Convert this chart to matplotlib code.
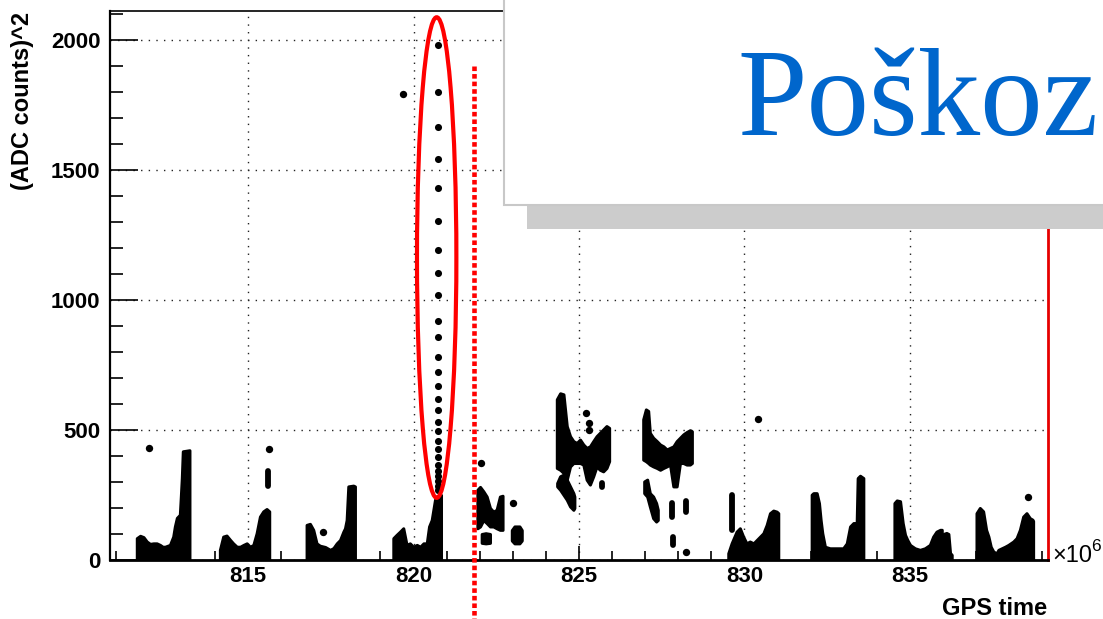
import matplotlib
matplotlib.use('Agg')
import matplotlib.pyplot as plt
from matplotlib.patches import Rectangle, Ellipse
from matplotlib.ticker import MultipleLocator

# ---------------- data (x in 10^6 s GPS time, y in (ADC counts)^2) ----------------
# dense clusters drawn as filled envelopes: x, upper edge (lower edge ~0)
A_x = [811.64, 811.74, 811.84, 811.94, 812.04, 812.14, 812.24, 812.34, 812.42, 812.49,
       812.64, 812.74, 812.79, 812.85, 812.94, 812.97, 813.00, 813.03, 813.23]
A_hi = [84, 93, 88, 71, 62, 64, 64, 58, 51, 51, 58, 90, 129, 162, 174, 243, 315, 418, 422]

B_x = [814.15, 814.25, 814.35, 814.46, 814.55, 814.66, 814.76, 814.86, 814.96, 815.06,
       815.16, 815.26, 815.36, 815.46, 815.56, 815.64]
B_hi = [39, 90, 94, 77, 64, 51, 51, 58, 64, 51, 58, 103, 167, 187, 196, 187]

C_x = [816.77, 816.87, 816.97, 817.07, 817.17, 817.33, 817.48, 817.58, 817.68, 817.78,
       817.88, 817.93, 817.98, 818.03, 818.18, 818.23]
C_hi = [135, 139, 116, 64, 55, 50, 39, 46, 64, 77, 109, 122, 154, 283, 286, 283]

D_x = [819.39, 819.49, 819.59, 819.69, 819.79, 819.89, 819.99, 820.10, 820.20, 820.30,
       820.40, 820.47, 820.55, 820.60, 820.65, 820.70, 820.80, 820.83]
D_hi = [84, 97, 109, 122, 58, 64, 51, 58, 51, 64, 64, 129, 154, 193, 232, 244, 250, 250]

H_x = [829.51, 829.61, 829.76, 829.86, 829.96, 830.06, 830.16, 830.27, 830.37, 830.47,
       830.57, 830.67, 830.77, 830.87, 830.97, 831.02]
H_hi = [26, 64, 109, 122, 90, 64, 71, 64, 77, 90, 103, 135, 180, 190, 186, 180]

I_x = [832.03, 832.08, 832.18, 832.25, 832.30, 832.35, 832.43, 832.58, 832.78, 832.98,
       833.09, 833.19, 833.29, 833.39, 833.42, 833.49, 833.59]
I_hi = [251, 257, 257, 219, 154, 103, 51, 45, 45, 45, 64, 129, 142, 142, 315, 324, 315]

J_x = [834.53, 834.60, 834.70, 834.78, 834.85, 834.92, 835.00, 835.15, 835.30, 835.45,
       835.60, 835.70, 835.80, 835.91, 835.96]
J_hi = [219, 229, 226, 142, 97, 77, 58, 45, 39, 45, 58, 90, 109, 116, 116]

J2_x = [836.01, 836.10, 836.16, 836.21, 836.26]
J2_hi = [100, 104, 100, 27, 20]

K_x = [837.01, 837.11, 837.21, 837.30, 837.37, 837.44, 837.52, 837.62, 837.67, 837.77,
       837.87, 837.97, 838.12, 838.22, 838.32, 838.42, 838.52, 838.62, 838.70, 838.72]
K_hi = [180, 200, 187, 116, 90, 51, 32, 26, 39, 45, 51, 58, 71, 84, 116, 167, 180, 161, 155, 150]

# floating clusters: x, lower edge, upper edge
E_x = [821.93, 822.01, 822.11, 822.21, 822.31, 822.41, 822.51, 822.61, 822.69]
E_lo = [122, 129, 154, 142, 129, 129, 122, 116, 116]
E_hi = [270, 281, 264, 244, 200, 186, 193, 244, 247]

E2_x = [822.06, 822.18, 822.31]
E2_lo = [66, 64, 66]
E2_hi = [100, 103, 100]

E3_x = [822.97, 823.05, 823.12, 823.20, 823.27]
E3_lo = [75, 64, 64, 64, 75]
E3_hi = [115, 129, 129, 129, 115]

F_x = [824.33, 824.43, 824.53, 824.63, 824.73, 824.83, 824.93, 825.03, 825.13, 825.23,
       825.33, 825.43, 825.53, 825.63, 825.73, 825.83, 825.91]
F_lo = [354, 347, 335, 309, 360, 373, 373, 373, 367, 309, 290, 322, 360, 347, 341, 354, 380]
F_hi = [618, 641, 637, 515, 476, 457, 450, 463, 444, 431, 437, 457, 476, 489, 502, 515, 508]

Ft_x = [824.34, 824.43, 824.53, 824.63, 824.73, 824.83, 824.86]
Ft_lo = [283, 270, 251, 232, 206, 193, 200]
Ft_hi = [296, 322, 328, 309, 283, 257, 244]

G_x = [826.94, 827.02, 827.09, 827.14, 827.24, 827.35, 827.45, 827.55, 827.65, 827.75,
       827.85, 827.95, 828.05, 828.15, 828.25, 828.35, 828.41]
G_lo = [386, 380, 373, 367, 360, 354, 347, 354, 360, 367, 283, 283, 373, 373, 367, 367, 373]
G_hi = [541, 579, 573, 489, 470, 457, 444, 437, 425, 431, 437, 457, 470, 483, 492, 499, 495]

Gt_x = [826.97, 827.06, 827.14, 827.24, 827.33, 827.38]
Gt_lo = [257, 244, 206, 161, 148, 154]
Gt_hi = [302, 309, 257, 244, 219, 193]

# short vertical streaks
seg_x = [815.61, 825.68, 827.80, 828.23, 827.83, 829.63]
seg_lo = [286, 280, 167, 186, 58, 116]
seg_hi = [341, 295, 219, 225, 90, 251]

# isolated points
pts_x = [812.01, 815.64, 817.26, 819.69, 822.04, 823.01, 825.21, 825.31, 825.31,
         828.23, 830.42, 838.57]
pts_y = [429, 425, 107, 1793, 373, 219, 566, 528, 499, 32, 541, 242]

# the vertical column of points at 820.75
spike_x = 820.75
spike_y = [1982, 1799, 1665, 1542, 1432, 1305, 1193, 1104, 1019, 920, 856, 779, 723,
           669, 620, 576, 530, 495, 457, 425, 395, 367, 341, 322, 302, 285, 268]

x_ticks = [815, 820, 825, 830, 835]
y_ticks = [0, 500, 1000, 1500, 2000]

# ---------------- figure ----------------
W, H = 1103, 619
fig = plt.figure(figsize=(W / 100, H / 100), dpi=100)
plt.rcParams['font.family'] = ['Liberation Sans', 'DejaVu Sans']


def fx(px):
    return px / W


def fy(py):
    return 1 - py / H


ax = fig.add_axes([fx(110), fy(560), fx(1048) - fx(110), fy(10.5) - fy(560)])
ax.set_xlim(810.83, 839.17)
ax.set_ylim(0, 2113)

ax.set_axisbelow(True)
ax.grid(True, which='major', color='#222222', linestyle=(0, (1, 4.5)), linewidth=1.0)

ground = [(A_x, A_hi), (B_x, B_hi), (C_x, C_hi), (D_x, D_hi), (H_x, H_hi),
          (I_x, I_hi), (J_x, J_hi), (J2_x, J2_hi), (K_x, K_hi)]
for xs, hs in ground:
    ax.fill_between(xs, [2] * len(xs), hs, facecolor='black', edgecolor='black',
                    linewidth=2.2, joinstyle='round', zorder=3)

floating = [(E_x, E_lo, E_hi), (E2_x, E2_lo, E2_hi), (E3_x, E3_lo, E3_hi),
            (F_x, F_lo, F_hi), (Ft_x, Ft_lo, Ft_hi), (G_x, G_lo, G_hi), (Gt_x, Gt_lo, Gt_hi)]
for xs, lo, hs in floating:
    ax.fill_between(xs, lo, hs, facecolor='black', edgecolor='black',
                    linewidth=2.2, joinstyle='round', zorder=3)

vl = ax.vlines(seg_x, seg_lo, seg_hi, colors='black', linewidth=4.2, zorder=3)
vl.set_capstyle('round')

ax.scatter(pts_x, pts_y, s=28, color='black', marker='o', linewidths=0, zorder=3)
ax.scatter([spike_x] * len(spike_y), spike_y, s=26, color='black', marker='o',
           linewidths=0, zorder=3)

# axes styling (ROOT-like)
ax.xaxis.set_major_locator(plt.FixedLocator(x_ticks))
ax.xaxis.set_minor_locator(MultipleLocator(1))
ax.yaxis.set_major_locator(plt.FixedLocator(y_ticks))
ax.yaxis.set_minor_locator(MultipleLocator(100))
ax.set_xticklabels([str(v) for v in x_ticks])
ax.set_yticklabels([str(v) for v in y_ticks])

ax.xaxis.set_tick_params(which='major', direction='in', length=10, width=1.2, pad=4.5,
                         labelsize=16, top=False)
ax.xaxis.set_tick_params(which='minor', direction='in', length=6.5, width=1.2, top=False)
ax.yaxis.set_tick_params(which='major', direction='in', length=20, width=1.2, pad=7,
                         labelsize=16, right=False)
ax.yaxis.set_tick_params(which='minor', direction='in', length=9.5, width=1.2, right=False)
for lbl in ax.get_xticklabels() + ax.get_yticklabels():
    lbl.set_fontweight('bold')

ax.spines['left'].set_linewidth(1.6)
ax.spines['bottom'].set_linewidth(2.0)
ax.spines['top'].set_linewidth(1.2)
ax.spines['right'].set_linewidth(2.0)
ax.spines['right'].set_color('#e60000')

# axis titles
fig.text(fx(1047), fy(615), 'GPS time', ha='right', va='baseline', fontsize=17,
         fontweight='bold')
fig.text(fx(23), fy(12), '(ADC counts)^2', ha='center', va='top', rotation=90,
         fontsize=17, fontweight='bold')
fig.text(fx(1052), fy(562), '\u00d710', ha='left', va='baseline', fontsize=17)
fig.text(fx(1091), fy(551), '6', ha='left', va='baseline', fontsize=12.5)

# red annotations
ell = Ellipse((820.70, 1163), width=1.19, height=1848, fill=False, edgecolor='#ff0000',
              linewidth=3.0, zorder=6, clip_on=False)
ax.add_patch(ell)
ax.plot([821.84, 821.84], [1900, -240], color='#ff0000', linewidth=3.3,
        linestyle=(0, (1, 0.65)), dash_capstyle='butt', clip_on=False, zorder=6)

# slide overlay box with shadow
shadow = Rectangle((fx(527), fy(229)), fx(1140) - fx(527), fy(-20) - fy(229),
                   transform=fig.transFigure, facecolor='#cccccc', edgecolor='none',
                   zorder=10)
box = Rectangle((fx(504), fy(205)), fx(1140) - fx(504), fy(-20) - fy(205),
                transform=fig.transFigure, facecolor='white', edgecolor='#c8c8c8',
                linewidth=1.5, zorder=11)
fig.add_artist(shadow)
fig.add_artist(box)
fig.text(fx(737), fy(135), 'Po\u0161koz', ha='left', va='baseline',
         fontfamily='Liberation Serif', fontsize=90, color='#0066cc', zorder=12)

fig.savefig('out.png', dpi=100)
